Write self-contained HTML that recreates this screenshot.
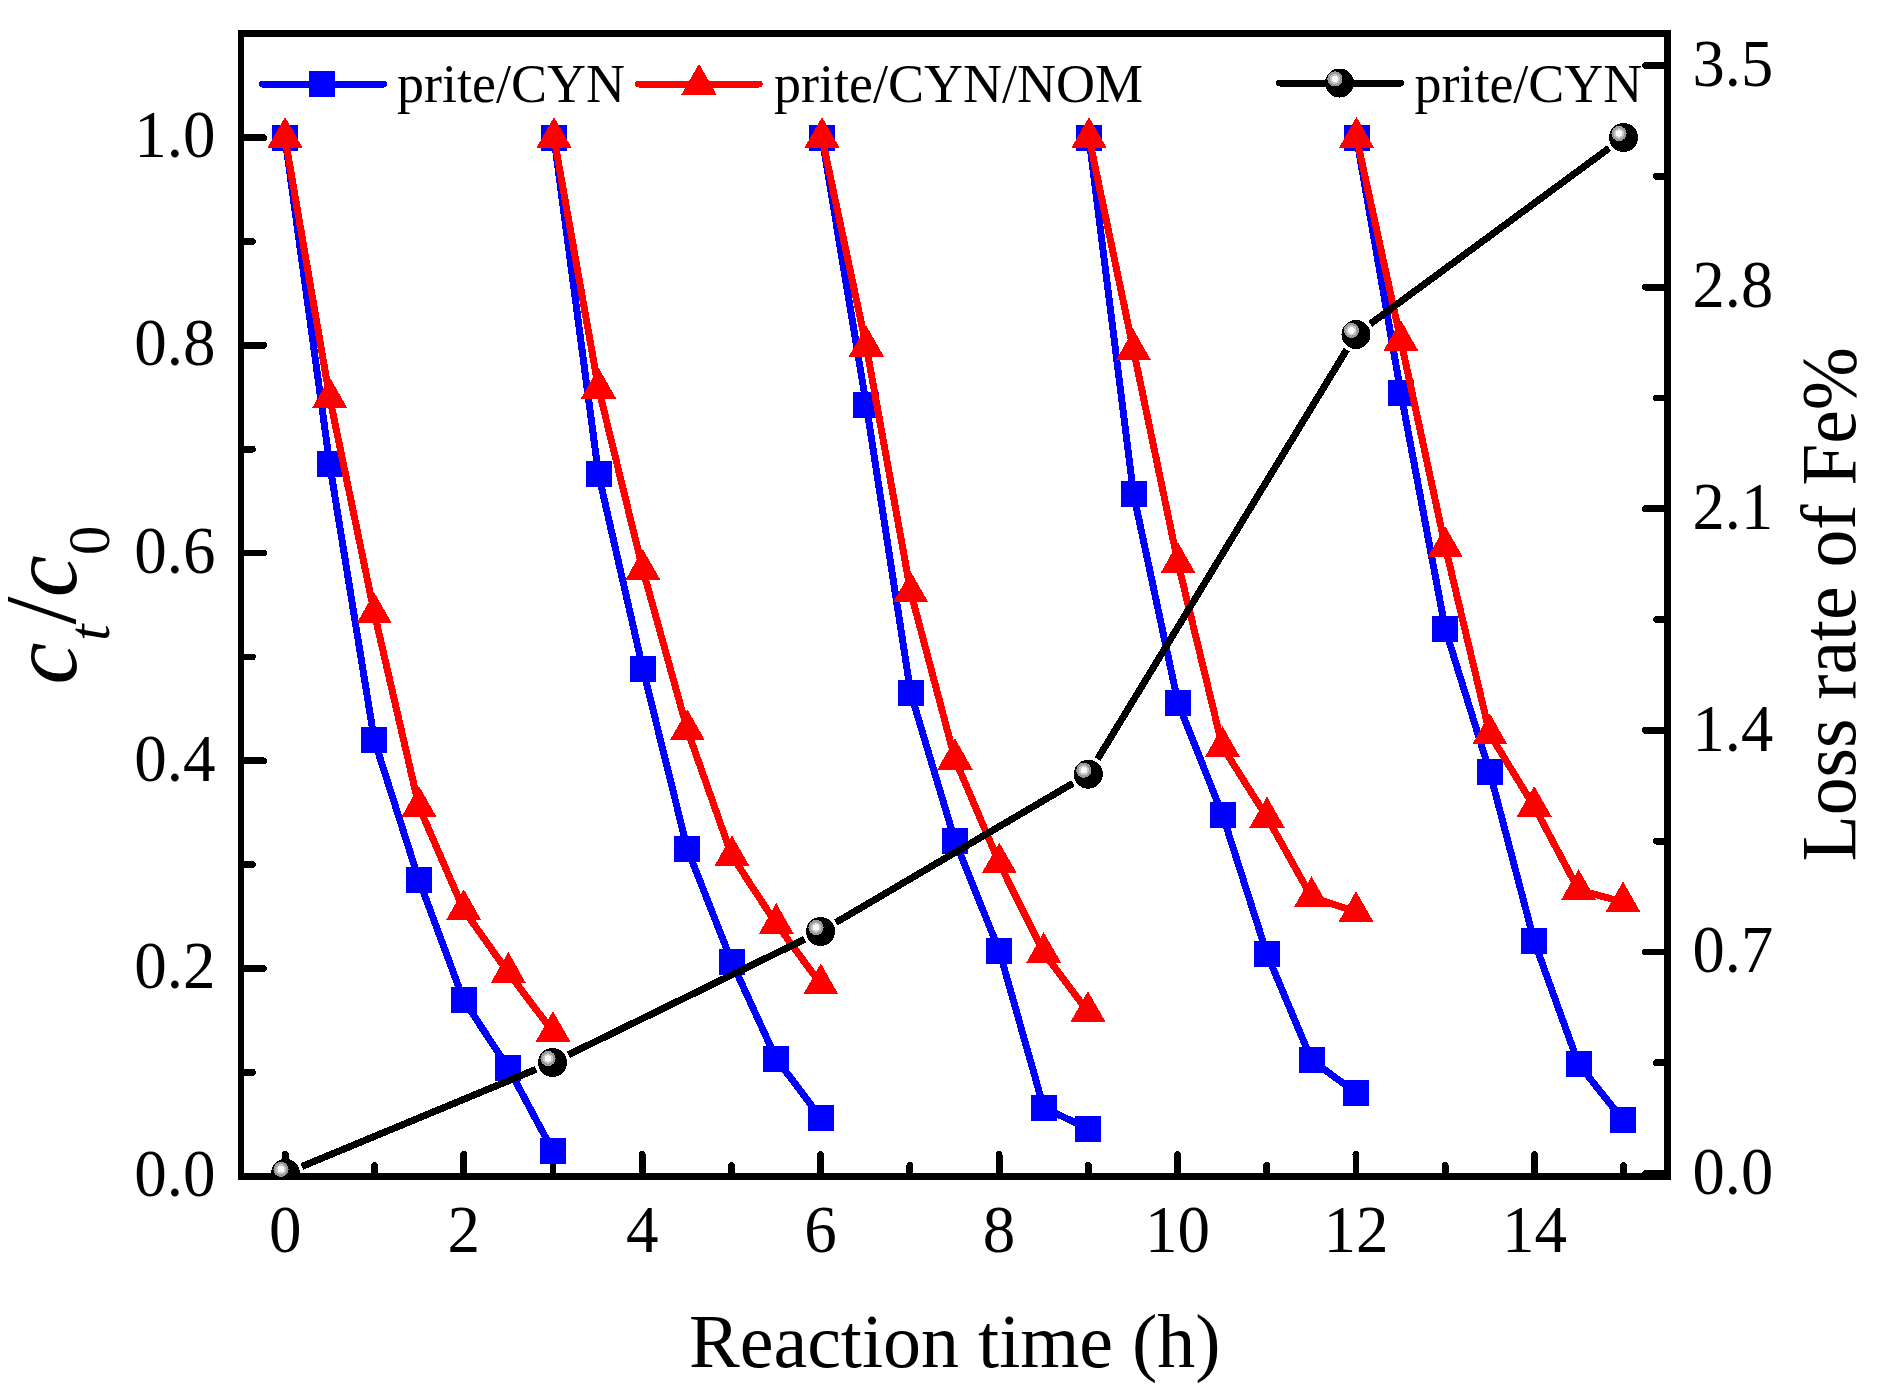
<!DOCTYPE html>
<html lang="en">
<head>
<meta charset="utf-8">
<title>Reaction time chart</title>
<style>
html,body{margin:0;padding:0;background:#fff;}
body{width:1889px;height:1395px;overflow:hidden;}
svg{display:block;}
text{font-family:"Liberation Serif",serif;fill:#000;}
.tk{font-size:68.5px;}
.lg{font-size:54px;}
.ttl{font-size:75px;}
</style>
</head>
<body>
<svg width="1889" height="1395" viewBox="0 0 1889 1395" shape-rendering="crispEdges">
<defs>
<clipPath id="plotclip"><rect x="238" y="30" width="1433" height="1149.8"/></clipPath>
<g id="ball">
<circle cx="0" cy="0" r="14.5" fill="#000"/>
<circle cx="-4.5" cy="-4" r="7.6" fill="#9a9a9a"/>
<circle cx="-4.5" cy="-4" r="5.2" fill="#c8c8c8"/>
<circle cx="-4.5" cy="-4" r="3.2" fill="#fbfbfb"/>
</g>
<rect id="sq" x="-13" y="-13" width="26" height="26" fill="#0000ff"/>
<path id="tri" d="M0,-20.7 L17.6,10.3 L-17.6,10.3 Z" fill="#ff0000"/>
</defs>
<rect x="0" y="0" width="1889" height="1395" fill="#ffffff"/>

<g fill="#000">
<rect x="238" y="29.9" width="1433" height="6.9"/>
<rect x="238" y="1173" width="1433" height="6.8"/>
<rect x="238" y="29.9" width="6" height="1149.9"/>
<rect x="1664" y="29.9" width="7" height="1149.9"/>
</g>
<g stroke="#000" stroke-width="6.8" stroke-linecap="round" fill="none">
<line x1="285.3" y1="1176" x2="285.3" y2="1154.5"/>
<line x1="374.5" y1="1176" x2="374.5" y2="1165.5"/>
<line x1="463.7" y1="1176" x2="463.7" y2="1154.5"/>
<line x1="553.0" y1="1176" x2="553.0" y2="1165.5"/>
<line x1="642.2" y1="1176" x2="642.2" y2="1154.5"/>
<line x1="731.4" y1="1176" x2="731.4" y2="1165.5"/>
<line x1="820.6" y1="1176" x2="820.6" y2="1154.5"/>
<line x1="909.8" y1="1176" x2="909.8" y2="1165.5"/>
<line x1="999.1" y1="1176" x2="999.1" y2="1154.5"/>
<line x1="1088.3" y1="1176" x2="1088.3" y2="1165.5"/>
<line x1="1177.5" y1="1176" x2="1177.5" y2="1154.5"/>
<line x1="1266.7" y1="1176" x2="1266.7" y2="1165.5"/>
<line x1="1355.9" y1="1176" x2="1355.9" y2="1154.5"/>
<line x1="1445.2" y1="1176" x2="1445.2" y2="1165.5"/>
<line x1="1534.4" y1="1176" x2="1534.4" y2="1154.5"/>
<line x1="1623.6" y1="1176" x2="1623.6" y2="1165.5"/>
<line x1="243" y1="1176.2" x2="263.6" y2="1176.2"/>
<line x1="243" y1="1072.3" x2="252.5" y2="1072.3"/>
<line x1="243" y1="968.5" x2="263.6" y2="968.5"/>
<line x1="243" y1="864.6" x2="252.5" y2="864.6"/>
<line x1="243" y1="760.8" x2="263.6" y2="760.8"/>
<line x1="243" y1="656.9" x2="252.5" y2="656.9"/>
<line x1="243" y1="553.0" x2="263.6" y2="553.0"/>
<line x1="243" y1="449.2" x2="252.5" y2="449.2"/>
<line x1="243" y1="345.3" x2="263.6" y2="345.3"/>
<line x1="243" y1="241.5" x2="252.5" y2="241.5"/>
<line x1="243" y1="137.6" x2="263.6" y2="137.6"/>
<line x1="1667.5" y1="1173.5" x2="1645.4" y2="1173.5"/>
<line x1="1667.5" y1="1062.7" x2="1656.5" y2="1062.7"/>
<line x1="1667.5" y1="951.9" x2="1645.4" y2="951.9"/>
<line x1="1667.5" y1="841.1" x2="1656.5" y2="841.1"/>
<line x1="1667.5" y1="730.3" x2="1645.4" y2="730.3"/>
<line x1="1667.5" y1="619.5" x2="1656.5" y2="619.5"/>
<line x1="1667.5" y1="508.7" x2="1645.4" y2="508.7"/>
<line x1="1667.5" y1="397.9" x2="1656.5" y2="397.9"/>
<line x1="1667.5" y1="287.1" x2="1645.4" y2="287.1"/>
<line x1="1667.5" y1="176.3" x2="1656.5" y2="176.3"/>
<line x1="1667.5" y1="65.5" x2="1645.4" y2="65.5"/>
</g>
<g class="tk">
<text x="285.3" y="1251.7" text-anchor="middle" textLength="32.5" lengthAdjust="spacingAndGlyphs">0</text>
<text x="463.7" y="1251.7" text-anchor="middle" textLength="32.5" lengthAdjust="spacingAndGlyphs">2</text>
<text x="642.2" y="1251.7" text-anchor="middle" textLength="32.5" lengthAdjust="spacingAndGlyphs">4</text>
<text x="820.6" y="1251.7" text-anchor="middle" textLength="32.5" lengthAdjust="spacingAndGlyphs">6</text>
<text x="999.1" y="1251.7" text-anchor="middle" textLength="32.5" lengthAdjust="spacingAndGlyphs">8</text>
<text x="1177.5" y="1251.7" text-anchor="middle" textLength="65.0" lengthAdjust="spacingAndGlyphs">10</text>
<text x="1355.9" y="1251.7" text-anchor="middle" textLength="65.0" lengthAdjust="spacingAndGlyphs">12</text>
<text x="1534.4" y="1251.7" text-anchor="middle" textLength="65.0" lengthAdjust="spacingAndGlyphs">14</text>
<text x="215.5" y="1195.9" text-anchor="end" textLength="81.25" lengthAdjust="spacingAndGlyphs">0.0</text>
<text x="215.5" y="988.2" text-anchor="end" textLength="81.25" lengthAdjust="spacingAndGlyphs">0.2</text>
<text x="215.5" y="780.5" text-anchor="end" textLength="81.25" lengthAdjust="spacingAndGlyphs">0.4</text>
<text x="215.5" y="572.7" text-anchor="end" textLength="81.25" lengthAdjust="spacingAndGlyphs">0.6</text>
<text x="215.5" y="365.0" text-anchor="end" textLength="81.25" lengthAdjust="spacingAndGlyphs">0.8</text>
<text x="215.5" y="157.3" text-anchor="end" textLength="81.25" lengthAdjust="spacingAndGlyphs">1.0</text>
<text x="1692.6" y="1193.8" textLength="80.6" lengthAdjust="spacingAndGlyphs">0.0</text>
<text x="1692.6" y="972.2" textLength="80.6" lengthAdjust="spacingAndGlyphs">0.7</text>
<text x="1692.6" y="750.6" textLength="80.6" lengthAdjust="spacingAndGlyphs">1.4</text>
<text x="1692.6" y="529.0" textLength="80.6" lengthAdjust="spacingAndGlyphs">2.1</text>
<text x="1692.6" y="307.4" textLength="80.6" lengthAdjust="spacingAndGlyphs">2.8</text>
<text x="1692.6" y="85.8" textLength="80.6" lengthAdjust="spacingAndGlyphs">3.5</text>
</g>
<text x="954.85" y="1367" font-size="76.6" text-anchor="middle" textLength="531.6" lengthAdjust="spacingAndGlyphs">Reaction time (h)</text>
<text transform="translate(1854.5,861.4) rotate(-90)" font-size="77.5" textLength="514.2" lengthAdjust="spacingAndGlyphs">Loss rate of Fe%</text>
<text transform="translate(75.8,0) rotate(-90)"><tspan x="-684.4" y="0" font-size="94.5" font-style="italic">c</tspan><tspan x="-640.8" y="33" font-size="58.5" font-style="italic">t</tspan><tspan x="-624.5" y="-0.8" font-size="101">/</tspan><tspan x="-597.2" y="0" font-size="94.5" font-style="italic">c</tspan><tspan x="-554.9" y="33" font-size="58.5">0</tspan></text>
<g fill="none" stroke="#0000ff" stroke-width="7" stroke-linejoin="round" stroke-linecap="round">
<polyline points="285.0,137.6 329.7,464.0 374.3,740.0 419.0,880.2 463.7,1000.2 508.3,1067.9 553.0,1151.2"/>
<polyline points="554.0,137.6 598.5,474.3 642.9,668.8 687.4,849.1 731.9,962.2 776.3,1058.8 820.8,1117.9"/>
<polyline points="822.0,137.6 866.3,404.9 910.7,693.0 955.0,840.7 999.3,950.8 1043.7,1107.7 1088.0,1128.6"/>
<polyline points="1089.0,137.6 1133.5,494.0 1178.0,702.7 1222.5,814.7 1267.0,954.0 1311.5,1059.9 1356.0,1092.8"/>
<polyline points="1356.5,137.6 1400.9,393.1 1445.3,629.2 1489.8,772.1 1534.2,941.2 1578.6,1064.1 1623.0,1120.0"/>
</g>
<g>
<use href="#sq" x="285.0" y="137.6"/>
<use href="#sq" x="329.7" y="464.0"/>
<use href="#sq" x="374.3" y="740.0"/>
<use href="#sq" x="419.0" y="880.2"/>
<use href="#sq" x="463.7" y="1000.2"/>
<use href="#sq" x="508.3" y="1067.9"/>
<use href="#sq" x="553.0" y="1151.2"/>
<use href="#sq" x="554.0" y="137.6"/>
<use href="#sq" x="598.5" y="474.3"/>
<use href="#sq" x="642.9" y="668.8"/>
<use href="#sq" x="687.4" y="849.1"/>
<use href="#sq" x="731.9" y="962.2"/>
<use href="#sq" x="776.3" y="1058.8"/>
<use href="#sq" x="820.8" y="1117.9"/>
<use href="#sq" x="822.0" y="137.6"/>
<use href="#sq" x="866.3" y="404.9"/>
<use href="#sq" x="910.7" y="693.0"/>
<use href="#sq" x="955.0" y="840.7"/>
<use href="#sq" x="999.3" y="950.8"/>
<use href="#sq" x="1043.7" y="1107.7"/>
<use href="#sq" x="1088.0" y="1128.6"/>
<use href="#sq" x="1089.0" y="137.6"/>
<use href="#sq" x="1133.5" y="494.0"/>
<use href="#sq" x="1178.0" y="702.7"/>
<use href="#sq" x="1222.5" y="814.7"/>
<use href="#sq" x="1267.0" y="954.0"/>
<use href="#sq" x="1311.5" y="1059.9"/>
<use href="#sq" x="1356.0" y="1092.8"/>
<use href="#sq" x="1356.5" y="137.6"/>
<use href="#sq" x="1400.9" y="393.1"/>
<use href="#sq" x="1445.3" y="629.2"/>
<use href="#sq" x="1489.8" y="772.1"/>
<use href="#sq" x="1534.2" y="941.2"/>
<use href="#sq" x="1578.6" y="1064.1"/>
<use href="#sq" x="1623.0" y="1120.0"/>
</g>
<g fill="none" stroke="#ff0000" stroke-width="7" stroke-linejoin="round" stroke-linecap="round">
<polyline points="285.0,137.6 329.7,397.8 374.3,613.1 419.0,806.7 463.7,909.9 508.3,972.7 553.0,1031.8"/>
<polyline points="554.0,137.6 598.5,388.2 642.9,569.9 687.4,730.1 731.9,855.9 776.3,923.8 820.8,984.1"/>
<polyline points="822.0,137.6 866.3,346.4 910.7,592.1 955.0,759.2 999.3,863.1 1043.7,952.8 1088.0,1011.8"/>
<polyline points="1089.0,137.6 1133.5,350.1 1178.0,563.0 1222.5,746.9 1267.0,817.3 1311.5,897.0 1356.0,911.8"/>
<polyline points="1356.5,137.6 1400.9,340.8 1445.3,546.9 1489.8,734.1 1534.2,806.7 1578.6,889.9 1623.0,902.1"/>
</g>
<g>
<use href="#tri" x="285.0" y="137.6"/>
<use href="#tri" x="329.7" y="397.8"/>
<use href="#tri" x="374.3" y="613.1"/>
<use href="#tri" x="419.0" y="806.7"/>
<use href="#tri" x="463.7" y="909.9"/>
<use href="#tri" x="508.3" y="972.7"/>
<use href="#tri" x="553.0" y="1031.8"/>
<use href="#tri" x="554.0" y="137.6"/>
<use href="#tri" x="598.5" y="388.2"/>
<use href="#tri" x="642.9" y="569.9"/>
<use href="#tri" x="687.4" y="730.1"/>
<use href="#tri" x="731.9" y="855.9"/>
<use href="#tri" x="776.3" y="923.8"/>
<use href="#tri" x="820.8" y="984.1"/>
<use href="#tri" x="822.0" y="137.6"/>
<use href="#tri" x="866.3" y="346.4"/>
<use href="#tri" x="910.7" y="592.1"/>
<use href="#tri" x="955.0" y="759.2"/>
<use href="#tri" x="999.3" y="863.1"/>
<use href="#tri" x="1043.7" y="952.8"/>
<use href="#tri" x="1088.0" y="1011.8"/>
<use href="#tri" x="1089.0" y="137.6"/>
<use href="#tri" x="1133.5" y="350.1"/>
<use href="#tri" x="1178.0" y="563.0"/>
<use href="#tri" x="1222.5" y="746.9"/>
<use href="#tri" x="1267.0" y="817.3"/>
<use href="#tri" x="1311.5" y="897.0"/>
<use href="#tri" x="1356.0" y="911.8"/>
<use href="#tri" x="1356.5" y="137.6"/>
<use href="#tri" x="1400.9" y="340.8"/>
<use href="#tri" x="1445.3" y="546.9"/>
<use href="#tri" x="1489.8" y="734.1"/>
<use href="#tri" x="1534.2" y="806.7"/>
<use href="#tri" x="1578.6" y="889.9"/>
<use href="#tri" x="1623.0" y="902.1"/>
</g>
<g clip-path="url(#plotclip)">
<g stroke="#000" stroke-width="7" stroke-linecap="butt" fill="none">
<line x1="301.9" y1="1166.5" x2="536.1" y2="1069.3"/>
<line x1="568.5" y1="1054.7" x2="804.6" y2="939.3"/>
<line x1="835.9" y1="922.5" x2="1073.0" y2="783.2"/>
<line x1="1097.6" y1="759.0" x2="1346.7" y2="349.7"/>
<line x1="1370.3" y1="323.9" x2="1609.2" y2="148.1"/>
</g>
<use href="#ball" x="285.5" y="1173.3"/>
<use href="#ball" x="552.5" y="1062.5"/>
<use href="#ball" x="820.6" y="931.5"/>
<use href="#ball" x="1088.3" y="774.2"/>
<use href="#ball" x="1356.0" y="334.5"/>
<use href="#ball" x="1623.5" y="137.5"/>
</g>
<g stroke-width="7" stroke-linecap="round" fill="none">
<line x1="262.3" y1="84" x2="383.5" y2="84" stroke="#0000ff"/>
<line x1="638.5" y1="84" x2="759.1" y2="84" stroke="#ff0000"/>
<line x1="1279.5" y1="83" x2="1400.5" y2="83" stroke="#000"/>
</g>
<use href="#sq" x="322" y="84"/>
<use href="#tri" x="699" y="84.4"/>
<use href="#ball" x="1339.5" y="83"/>
<g class="lg">
<text x="397" y="102">prite/CYN</text>
<text x="774" y="102">prite/CYN/NOM</text>
<text x="1414.4" y="102">prite/CYN</text>
</g>
</svg>
</body>
</html>
